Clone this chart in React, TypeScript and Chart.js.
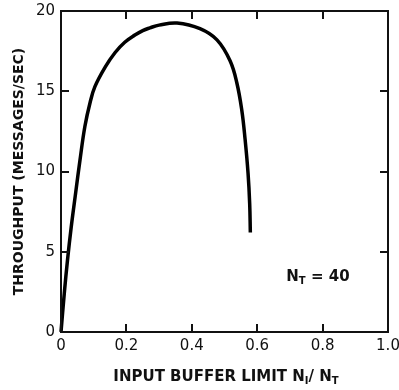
import React, { useEffect, useRef } from "react";
import { Chart, registerables } from "chart.js";

Chart.register(...registerables);

// Input buffer limit N_I / N_T
const bufferLimit = [0, 0.01, 0.02, 0.031, 0.045, 0.058, 0.073, 0.089, 0.104, 0.135, 0.165, 0.195, 0.226, 0.25, 0.272, 0.3, 0.355, 0.425, 0.477, 0.517, 0.538, 0.553, 0.563, 0.572, 0.577, 0.579];
// Throughput (messages/sec)
const throughput = [0, 2.4, 4.5, 6.5, 8.7, 10.7, 12.8, 14.3, 15.3, 16.5, 17.4, 18.05, 18.5, 18.78, 18.95, 19.12, 19.25, 18.9, 18.2, 16.9, 15.5, 13.8, 12.0, 9.9, 8.0, 6.2];

const xInnerTicks = [0.2, 0.4, 0.6, 0.8];
const yInnerTicks = [5, 10, 15];

const yTitle = "THROUGHPUT (MESSAGES/SEC)";
const xTitleParts = [
  { t: "INPUT BUFFER LIMIT N", sub: false },
  { t: "I", sub: true },
  { t: "/ N", sub: false },
  { t: "T", sub: true },
];
const annotationParts = [
  { t: "N", sub: false },
  { t: "T", sub: true },
  { t: " = 40", sub: false },
];

const FONT = "'DejaVu Sans', Verdana, sans-serif";

function drawParts(ctx: CanvasRenderingContext2D, parts: { t: string; sub: boolean }[], cx: number, cy: number, size: number, subSize: number, align: "center" | "left") {
  const main = `bold ${size}px ${FONT}`;
  const small = `bold ${subSize}px ${FONT}`;
  let total = 0;
  const widths = parts.map((p) => {
    ctx.font = p.sub ? small : main;
    const w = ctx.measureText(p.t).width;
    total += w;
    return w;
  });
  let x = align === "center" ? cx - total / 2 : cx;
  ctx.textBaseline = "middle";
  ctx.textAlign = "left";
  parts.forEach((p, i) => {
    ctx.font = p.sub ? small : main;
    ctx.fillText(p.t, x, p.sub ? cy + 4 : cy);
    x += widths[i];
  });
}

const framePlugin = {
  id: "frame",
  afterDraw(chart: any) {
    const { ctx, chartArea } = chart;
    const xs = chart.scales.x;
    const ys = chart.scales.y;
    ctx.save();
    ctx.strokeStyle = "#111";
    ctx.lineWidth = 2;
    ctx.strokeRect(chartArea.left, chartArea.top, chartArea.right - chartArea.left, chartArea.bottom - chartArea.top);
    const tl = 8;
    ctx.beginPath();
    xInnerTicks.forEach((v) => {
      const px = Math.round(xs.getPixelForValue(v));
      ctx.moveTo(px, chartArea.bottom);
      ctx.lineTo(px, chartArea.bottom - tl);
      ctx.moveTo(px, chartArea.top);
      ctx.lineTo(px, chartArea.top + tl);
    });
    yInnerTicks.forEach((v) => {
      const py = Math.round(ys.getPixelForValue(v));
      ctx.moveTo(chartArea.left, py);
      ctx.lineTo(chartArea.left + tl, py);
      ctx.moveTo(chartArea.right, py);
      ctx.lineTo(chartArea.right - tl, py);
    });
    ctx.stroke();

    ctx.fillStyle = "#111";
    // y title
    ctx.save();
    ctx.translate(19, (chartArea.top + chartArea.bottom) / 2);
    ctx.rotate(-Math.PI / 2);
    ctx.font = `bold 14px ${FONT}`;
    ctx.textAlign = "center";
    ctx.textBaseline = "middle";
    ctx.fillText(yTitle, 0, 0);
    ctx.restore();
    // x title
    drawParts(ctx, xTitleParts, 226, 377, 15, 10, "center");
    // annotation
    drawParts(ctx, annotationParts, xs.getPixelForValue(0.689), ys.getPixelForValue(3.4), 15, 10, "left");
    ctx.restore();
  },
};

export default function App() {
  const ref = useRef<HTMLCanvasElement | null>(null);
  useEffect(() => {
    if (!ref.current) return;
    const chart = new Chart(ref.current, {
      type: "line",
      data: {
        datasets: [
          {
            data: bufferLimit.map((x, i) => ({ x, y: throughput[i] })),
            borderColor: "#000",
            borderWidth: 3.5,
            pointRadius: 0,
            tension: 0.4,
            fill: false,
            clip: false as any,
          },
        ],
      },
      options: {
        animation: false,
        responsive: false,
        devicePixelRatio: 1,
        layout: { padding: { top: 11, right: 11, left: 0, bottom: 0 } },
        plugins: { legend: { display: false }, tooltip: { enabled: false } },
        scales: {
          x: {
            type: "linear",
            min: 0,
            max: 1,
            ticks: {
              stepSize: 0.2,
              color: "#111",
              padding: 5,
              font: { family: FONT, size: 15 },
              callback: (v: any) => (Number(v) === 0 ? "0" : Number(v).toFixed(1)),
            },
            grid: { display: false, drawTicks: false },
            border: { display: false },
            afterFit: (s: any) => {
              s.height = 58;
              s.paddingLeft = 0;
              s.paddingRight = 0;
            },
          },
          y: {
            type: "linear",
            min: 0,
            max: 20,
            ticks: {
              stepSize: 5,
              color: "#111",
              padding: 6,
              font: { family: FONT, size: 15 },
            },
            grid: { display: false, drawTicks: false },
            border: { display: false },
            afterFit: (s: any) => {
              s.width = 61;
              s.paddingTop = 0;
              s.paddingBottom = 0;
            },
          },
        },
      },
      plugins: [framePlugin],
    });
    return () => chart.destroy();
  }, []);
  return (
    <div style={{ position: "absolute", left: 0, top: 0, width: 399, height: 390, background: "#fff" }}>
      <canvas ref={ref} width={399} height={390} style={{ display: "block", width: 399, height: 390 }} />
    </div>
  );
}
